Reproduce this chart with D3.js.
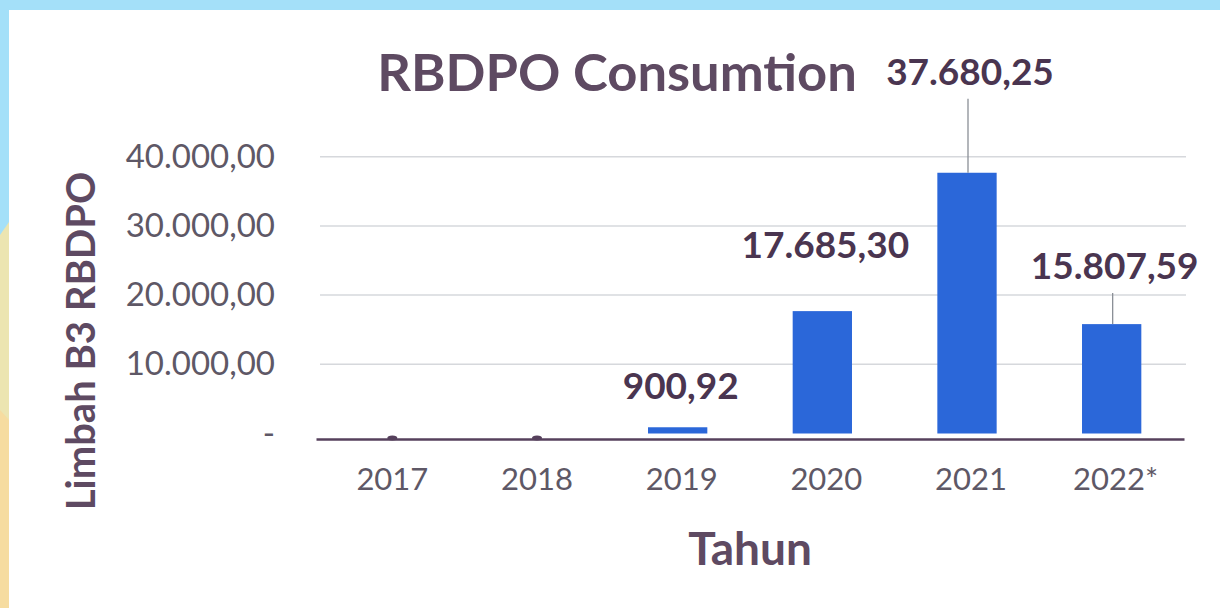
<!DOCTYPE html>
<html>
<head>
<meta charset="utf-8">
<script src="https://cdn.jsdelivr.net/npm/d3@7"></script>
<style>
    html, body { margin: 0; padding: 0; background: #fff; }
    svg { display: block; }
</style>
</head>
<body>
<div id="chart"></div>
<script>
const years = ["2017", "2018", "2019", "2020", "2021", "2022*"];
const consumption = [0, 0, 900.92, 17685.30, 37680.25, 15807.59];
const yTicks = [0, 10000, 20000, 30000, 40000];

// where each data label sits above its bar (px), and whether it has a leader line
const labelLift = [0, 0, 28, 53, 88, 45];
const labelLeader = [false, false, false, false, true, true];

const width = 1220;
const height = 608;
const plot = { left: 316, right: 1184, top: 156.7, bottom: 433.5 };

const textColor = "#56405c";
const tickColor = "#5e5866";
const barColor = "#2b67d9";

const fmt = v => {
    if (v === 0) return "-";
    const [i, d] = v.toFixed(2).split(".");
    return i.replace(/\B(?=(\d{3})+(?!\d))/g, ".") + "," + d;
};

const svg = d3.select("#chart").append("svg")
    .attr("width", width)
    .attr("height", height);

// page background strips
svg.append("rect").attr("width", width).attr("height", height).attr("fill", "#a4e0f9");
svg.append("polygon").attr("points", "0,235 9,222 9,608 0,608").attr("fill", "#ece5b1");
svg.append("polygon").attr("points", "0,410 9,420 9,608 0,608").attr("fill", "#f6dca0");
svg.append("rect").attr("x", 9).attr("y", 10).attr("width", width - 9).attr("height", height - 10).attr("fill", "#ffffff");

const x = d3.scaleBand()
    .domain(years)
    .range([plot.left, plot.right])
    .paddingInner(0.59)
    .paddingOuter(0.295);

const y = d3.scaleLinear()
    .domain([0, 40000])
    .range([plot.bottom, plot.top]);

// grid
svg.append("g")
    .selectAll("line")
    .data(yTicks.filter(d => d > 0))
    .join("line")
    .attr("x1", plot.left + 4)
    .attr("x2", plot.right + 2)
    .attr("y1", d => y(d))
    .attr("y2", d => y(d))
    .attr("stroke", "#d6d8dc")
    .attr("stroke-width", 1.5);

// y tick labels
svg.append("g")
    .attr("transform", "translate(275, 0)")
    .call(d3.axisLeft(y).tickValues(yTicks).tickFormat(fmt).tickSize(0).tickPadding(0))
    .call(g => g.select(".domain").remove())
    .call(g => g.selectAll(".tick text")
        .style("font-family", "Lato, sans-serif")
        .style("font-size", "33px")
        .attr("fill", tickColor));

// bars
svg.append("g")
    .selectAll("rect")
    .data(years.map((d, i) => ({ year: d, value: consumption[i] })).filter(d => d.value > 0))
    .join("rect")
    .attr("x", d => x(d.year))
    .attr("y", d => y(d.value))
    .attr("width", x.bandwidth())
    .attr("height", d => y(0) - y(d.value))
    .attr("fill", barColor);

// tiny zero markers
svg.append("g")
    .selectAll("ellipse")
    .data(years.map((d, i) => ({ year: d, value: consumption[i] })).filter(d => d.value === 0))
    .join("ellipse")
    .attr("cx", d => x(d.year) + x.bandwidth() / 2 + 4)
    .attr("cy", y(0) + 4.5)
    .attr("rx", 5)
    .attr("ry", 2.5)
    .attr("fill", textColor);

// x axis line and labels
svg.append("g")
    .attr("transform", `translate(0, ${y(0) + 5.5})`)
    .call(d3.axisBottom(x).tickSize(0).tickPadding(29))
    .call(g => g.select(".domain").attr("stroke", textColor).attr("stroke-width", 2.5))
    .call(g => g.selectAll(".tick text")
        .style("font-family", "Lato, sans-serif")
        .style("font-size", "31px")
        .attr("dx", 4)
        .attr("fill", tickColor));

// data labels
const labelData = years.map((d, i) => ({ year: d, value: consumption[i], lift: labelLift[i], leader: labelLeader[i] }))
    .filter(d => d.value > 0);

svg.append("g")
    .selectAll("line")
    .data(labelData.filter(d => d.leader))
    .join("line")
    .attr("x1", d => x(d.year) + x.bandwidth() / 2 + 1)
    .attr("x2", d => x(d.year) + x.bandwidth() / 2 + 1)
    .attr("y1", d => y(d.value) - d.lift + 14)
    .attr("y2", d => y(d.value))
    .attr("stroke", "#8a8f96")
    .attr("stroke-width", 1.3);

svg.append("g")
    .selectAll("text")
    .data(labelData)
    .join("text")
    .attr("x", d => x(d.year) + x.bandwidth() / 2 + 3)
    .attr("y", d => y(d.value) - d.lift)
    .attr("text-anchor", "middle")
    .style("font-family", "Lato, sans-serif")
    .style("font-size", "37px")
    .style("font-weight", "bold")
    .attr("fill", "#4a3550")
    .text(d => fmt(d.value));

// title
svg.append("text")
    .attr("x", 617)
    .attr("y", 91)
    .attr("text-anchor", "middle")
    .style("font-family", "Lato, sans-serif")
    .style("font-size", "52.5px")
    .style("font-weight", "bold")
    .attr("fill", "#5e4a62")
    .text("RBDPO Consumtion");

// axis titles
svg.append("text")
    .attr("transform", "translate(95, 341) rotate(-90)")
    .attr("text-anchor", "middle")
    .style("font-family", "Lato, sans-serif")
    .style("font-size", "40px")
    .style("font-weight", "bold")
    .attr("fill", "#5e4a62")
    .text("Limbah B3 RBDPO");

svg.append("text")
    .attr("x", 750)
    .attr("y", 565)
    .attr("text-anchor", "middle")
    .style("font-family", "Lato, sans-serif")
    .style("font-size", "46px")
    .style("font-weight", "bold")
    .attr("fill", "#5e4a62")
    .text("Tahun");
</script>
</body>
</html>
